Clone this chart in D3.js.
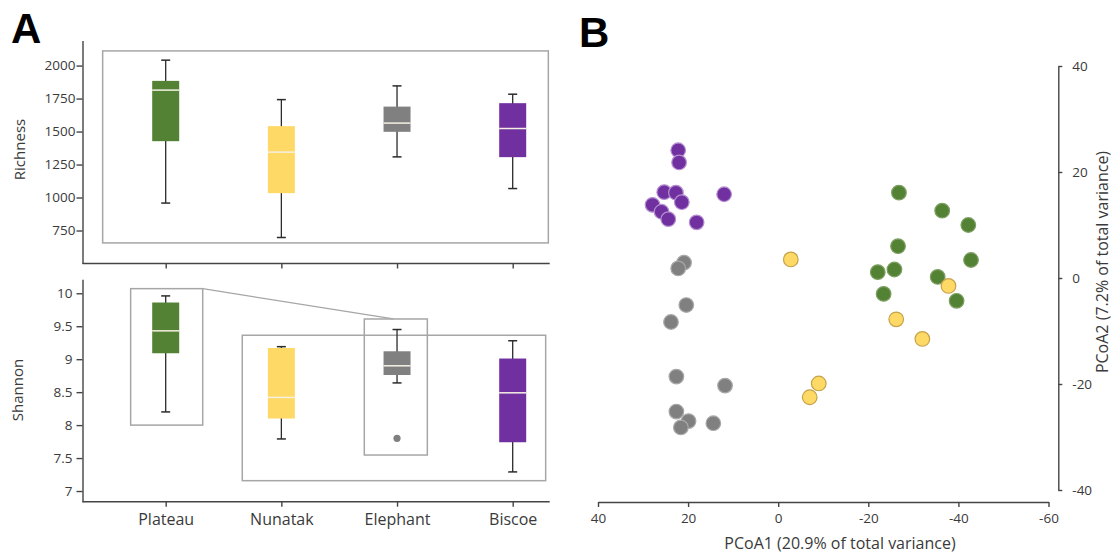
<!DOCTYPE html>
<html>
<head>
<meta charset="utf-8">
<script src="https://cdn.jsdelivr.net/npm/d3@7"></script>
<style>
  body { margin: 0; background: #fff; }
  svg text { font-family: "Open Sans", "Noto Sans", sans-serif; fill: #3a3a3a; }
  .axis path, .axis line { stroke: #444; stroke-width: 1.4; }
  .frame { fill: none; stroke: #a6a6a6; stroke-width: 1.5; }
</style>
</head>
<body>
<script>
// Sites, in plotting order
const categories = ["Plateau", "Nunatak", "Elephant", "Biscoe"];
const groupColors = ["#548235", "#ffd966", "#808080", "#7030a0"];
const pointStroke = ["#7d9f62", "#c4a24a", "#a8a8a8", "#b58fd0"];

// Richness box stats (whisker low, Q1, median, Q3, whisker high)
const richLow = [958, 697, 1308, 1068];
const richQ1 = [1427, 1033, 1498, 1306];
const richMedian = [1814, 1344, 1564, 1523];
const richQ3 = [1884, 1541, 1689, 1715];
const richHigh = [2041, 1742, 1846, 1783];
const richTicks = [750, 1000, 1250, 1500, 1750, 2000];

// Shannon box stats
const shanLow = [8.20, 7.79, 8.64, 7.29];
const shanQ1 = [9.09, 8.10, 8.76, 7.74];
const shanMedian = [9.43, 8.42, 8.90, 8.49];
const shanQ3 = [9.86, 9.17, 9.12, 9.01];
const shanHigh = [9.96, 9.19, 9.45, 9.28];
const shanOutliers = [{ group: "Elephant", value: 7.80 }];
const shanTicks = [7, 7.5, 8, 8.5, 9, 9.5, 10];

// PCoA scores [PCoA1, PCoA2] for each site
const pcoaPlateau = [[-26.8, 16.1], [-36.4, 12.7], [-42.2, 10.0], [-26.6, 6.0], [-42.8, 3.4],
  [-22.1, 1.1], [-25.8, 1.6], [-35.4, 0.2], [-23.4, -3.0], [-39.6, -4.3]];
const pcoaNunatak = [[-2.8, 3.5], [-37.8, -1.5], [-26.2, -7.8], [-32.0, -11.5], [-9.0, -19.9], [-7.0, -22.5]];
const pcoaElephant = [[20.9, 2.9], [22.2, 1.8], [20.4, -5.1], [23.8, -8.3], [22.6, -18.6],
  [11.8, -20.3], [22.6, -25.2], [19.9, -27.0], [21.6, -28.2], [14.4, -27.4]];
const pcoaBiscoe = [[22.2, 24.1], [22.0, 21.8], [25.3, 16.2], [22.7, 16.1], [12.0, 15.8],
  [21.4, 14.3], [27.9, 13.8], [25.9, 12.5], [24.4, 11.1], [18.1, 10.5]];
const pcoaTicks = [40, 20, 0, -20, -40, -60];
const pcoaYTicks = [40, 20, 0, -20, -40];

// plain number labels: no thousands comma, ascii minus
const plain = d => String(d);
const tickFont = "13.5px";

const svg = d3.select("body").append("svg")
    .attr("width", 1116)
    .attr("height", 554);

// Panel letters
svg.append("text").attr("x", 11).attr("y", 43).text("A")
    .style("font-family", "'Liberation Sans', Arial, sans-serif")
    .style("font-weight", "bold").style("font-size", "42px").style("fill", "#000");
svg.append("text").attr("x", 579).attr("y", 47).text("B")
    .style("font-family", "'Liberation Sans', Arial, sans-serif")
    .style("font-weight", "bold").style("font-size", "42px").style("fill", "#000");

// ---------- Panel A ----------
const xPos = d3.scalePoint().domain(categories).range([165.7, 512.7]);
// index scale, used for the grey frames that sit between categories
const xIdx = d3.scaleLinear().domain([0, 3]).range([165.7, 512.7]);
const axisLeftX = 82.5;
const axisRightX = xIdx(3.32);

const yRich = d3.scaleLinear().domain([500, 2190]).range([263.5, 40.5]);
const yShan = d3.scaleLinear().domain([6.838, 10.212]).range([501.7, 279.3]);

function styleTicks(ax) {
  ax.selectAll("text")
      .style("font-size", tickFont)
      .style("font-family", "'Open Sans', sans-serif")
      .attr("fill", "#3a3a3a");
}

function drawBoxes(g, y, low, q1, med, q3, high) {
  const boxW = 27, capW = 9;
  const items = categories.map((c, i) => ({ c, i, low: low[i], q1: q1[i], med: med[i], q3: q3[i], high: high[i] }));
  const grp = g.selectAll("g.box").data(items).join("g").attr("class", "box");

  // whiskers
  grp.append("line")
      .attr("x1", d => xPos(d.c)).attr("x2", d => xPos(d.c))
      .attr("y1", d => y(d.high)).attr("y2", d => y(d.low))
      .attr("stroke", "#2b2b2b").attr("stroke-width", 1.3);
  grp.append("line")
      .attr("x1", d => xPos(d.c) - capW / 2).attr("x2", d => xPos(d.c) + capW / 2)
      .attr("y1", d => y(d.high)).attr("y2", d => y(d.high))
      .attr("stroke", "#2b2b2b").attr("stroke-width", 1.5);
  grp.append("line")
      .attr("x1", d => xPos(d.c) - capW / 2).attr("x2", d => xPos(d.c) + capW / 2)
      .attr("y1", d => y(d.low)).attr("y2", d => y(d.low))
      .attr("stroke", "#2b2b2b").attr("stroke-width", 1.5);

  // box
  grp.append("rect")
      .attr("x", d => xPos(d.c) - boxW / 2)
      .attr("width", boxW)
      .attr("y", d => y(d.q3))
      .attr("height", d => y(d.q1) - y(d.q3))
      .attr("fill", d => groupColors[d.i]);

  // median
  grp.append("line")
      .attr("x1", d => xPos(d.c) - boxW / 2).attr("x2", d => xPos(d.c) + boxW / 2)
      .attr("y1", d => y(d.med)).attr("y2", d => y(d.med))
      .attr("stroke", "#f4f1e4").attr("stroke-width", 1.5);
}

function drawBottomAxis(y0) {
  const ax = svg.append("g").attr("class", "axis")
      .attr("transform", `translate(0,${y0})`)
      .call(d3.axisBottom(xPos).tickSize(5).tickSizeOuter(0).tickFormat(""));
  ax.select(".domain").remove();
  ax.append("line").attr("x1", axisLeftX).attr("x2", axisRightX)
      .attr("stroke", "#444").attr("stroke-width", 1.6);
  return ax;
}

// Richness
const rich = svg.append("g");
rich.append("rect").attr("class", "frame")
    .attr("x", xIdx(-0.545)).attr("width", xIdx(3.308) - xIdx(-0.545))
    .attr("y", yRich(2111)).attr("height", yRich(656) - yRich(2111));
drawBoxes(rich, yRich, richLow, richQ1, richMedian, richQ3, richHigh);

const richAxis = svg.append("g").attr("class", "axis")
    .attr("transform", `translate(${axisLeftX},0)`)
    .call(d3.axisLeft(yRich).tickValues(richTicks).tickFormat(plain)
      .tickSize(6).tickPadding(1).tickSizeOuter(0));
styleTicks(richAxis);
drawBottomAxis(yRich(500));

svg.append("text")
    .attr("transform", `translate(25,${149.5}) rotate(-90)`)
    .attr("text-anchor", "middle")
    .style("font-size", "15px")
    .text("Richness");

// Shannon
const shan = svg.append("g");
// zoom frames
shan.append("rect").attr("class", "frame")
    .attr("x", xIdx(-0.303)).attr("width", xIdx(0.320) - xIdx(-0.303))
    .attr("y", yShan(10.07)).attr("height", yShan(8.0) - yShan(10.07));
shan.append("rect").attr("class", "frame")
    .attr("x", xIdx(0.662)).attr("width", xIdx(3.285) - xIdx(0.662))
    .attr("y", yShan(9.363)).attr("height", yShan(7.157) - yShan(9.363));
shan.append("rect").attr("class", "frame")
    .attr("x", xIdx(1.717)).attr("width", xIdx(2.262) - xIdx(1.717))
    .attr("y", yShan(9.61)).attr("height", yShan(7.546) - yShan(9.61));
shan.append("line")
    .attr("x1", xIdx(0.320)).attr("y1", yShan(10.07))
    .attr("x2", xIdx(1.968)).attr("y2", yShan(9.61))
    .attr("stroke", "#a6a6a6").attr("stroke-width", 1.3);

drawBoxes(shan, yShan, shanLow, shanQ1, shanMedian, shanQ3, shanHigh);
shan.selectAll("circle.outlier").data(shanOutliers).join("circle")
    .attr("class", "outlier")
    .attr("cx", d => xPos(d.group))
    .attr("cy", d => yShan(d.value))
    .attr("r", 3.6)
    .attr("fill", groupColors[2]);

const shanAxis = svg.append("g").attr("class", "axis")
    .attr("transform", `translate(${axisLeftX},0)`)
    .call(d3.axisLeft(yShan).tickValues(shanTicks).tickFormat(plain)
      .tickSize(6).tickPadding(4).tickSizeOuter(0));
styleTicks(shanAxis);

const catAxis = drawBottomAxis(yShan(6.838));
catAxis.selectAll(".tick").append("text")
    .attr("y", 23)
    .attr("text-anchor", "middle")
    .style("font-size", "16px")
    .style("font-family", "'Open Sans', sans-serif")
    .attr("fill", "#3a3a3a")
    .text(d => d);

svg.append("text")
    .attr("transform", `translate(23,${390}) rotate(-90)`)
    .attr("text-anchor", "middle")
    .style("font-size", "15px")
    .text("Shannon");

// ---------- Panel B ----------
const xP = d3.scaleLinear().domain([40, -60]).range([598, 1048.5]);
const yP = d3.scaleLinear().domain([40, -40]).range([66, 490]);

const pcoaGroups = [pcoaPlateau, pcoaNunatak, pcoaElephant, pcoaBiscoe];
const pts = [];
pcoaGroups.forEach((arr, i) => arr.forEach(p => pts.push({ i, x: p[0], y: p[1] })));

svg.append("g").selectAll("circle")
    .data(pts)
  .join("circle")
    .attr("cx", d => xP(d.x))
    .attr("cy", d => yP(d.y))
    .attr("r", 7.3)
    .attr("fill", d => groupColors[d.i])
    .attr("stroke", d => pointStroke[d.i])
    .attr("stroke-width", 1.2);

const xAxisB = svg.append("g").attr("class", "axis")
    .attr("transform", "translate(0,502)")
    .call(d3.axisBottom(xP).tickValues(pcoaTicks).tickFormat(plain)
      .tickSize(5).tickPadding(6).tickSizeOuter(0));
styleTicks(xAxisB);

const yAxisB = svg.append("g").attr("class", "axis")
    .attr("transform", "translate(1058.3,0)")
    .call(d3.axisRight(yP).tickValues(pcoaYTicks).tickFormat(plain)
      .tickSize(4).tickPadding(10).tickSizeOuter(0));
styleTicks(yAxisB);

svg.append("text")
    .attr("x", 840).attr("y", 549)
    .attr("text-anchor", "middle")
    .style("font-size", "16px")
    .text("PCoA1 (20.9% of total variance)");

svg.append("text")
    .attr("transform", "translate(1108,262) rotate(-90)")
    .attr("text-anchor", "middle")
    .style("font-size", "16px")
    .text("PCoA2 (7.2% of total variance)");
</script>
</body>
</html>
